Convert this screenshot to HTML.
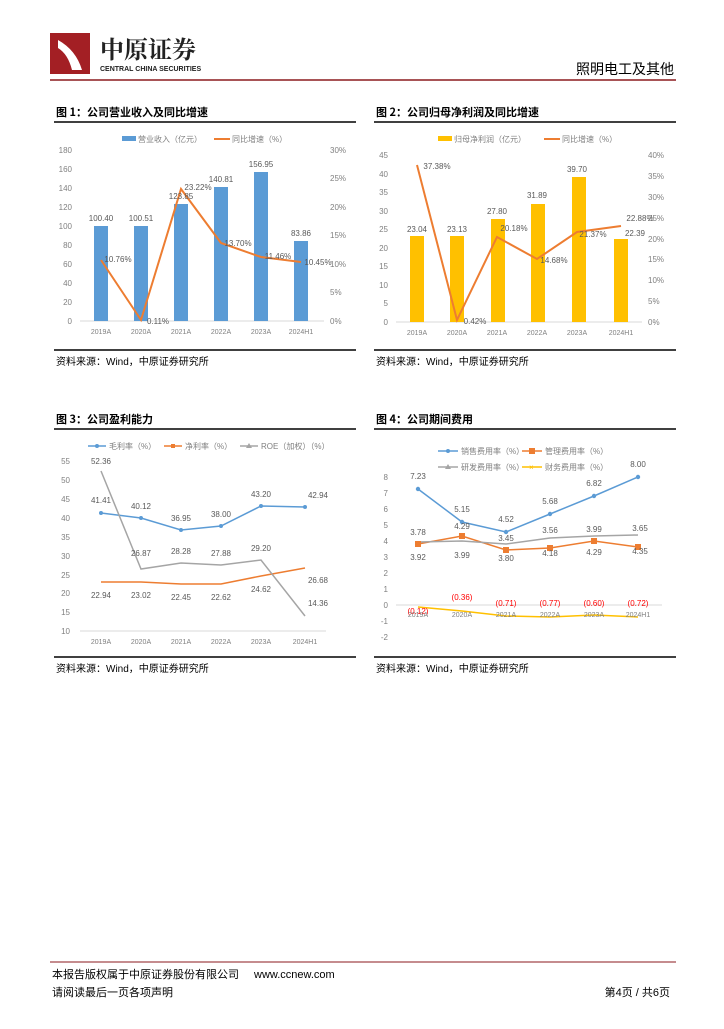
<!DOCTYPE html>
<html><head><meta charset="utf-8"><style>
body{margin:0;background:#fff;}
svg text{font-family:"Liberation Sans","Noto Sans CJK SC",sans-serif;}
.t{font-size:8px;fill:#808080}
.v{font-size:8px;fill:#595959}
.h{font-size:11px;font-weight:bold;fill:#000;font-family:"Noto Sans CJK SC",sans-serif}
.s{font-size:10px;fill:#000}
</style></head><body>
<svg width="724" height="1024" xmlns="http://www.w3.org/2000/svg">
<!-- header -->
<rect x="50" y="33" width="40" height="41" fill="#a31f24"/>
<path d="M58 40 q18 10 24 30 h-10 q-4 -16 -14 -22z" fill="#fff"/>
<text x="100" y="58" style="font-size:24px;font-weight:bold;fill:#222;font-family:'Noto Serif CJK SC',serif">中原证券</text>
<text x="100" y="71" style="font-size:7px;font-weight:bold;fill:#222">CENTRAL CHINA SECURITIES</text>
<text x="674" y="74" text-anchor="end" style="font-size:14px;fill:#000;font-family:'Noto Sans CJK SC',sans-serif">照明电工及其他</text>
<line x1="50" y1="80" x2="676" y2="80" stroke="#8b1a1e" stroke-width="1.5"/>

<!-- Chart 1 -->
<text x="56" y="116" class="h">图 1：公司营业收入及同比增速</text>
<line x1="54" y1="122" x2="356" y2="122" stroke="#000" stroke-width="1.5"/>
<rect x="122" y="136" width="14" height="5" fill="#5b9bd5"/><text x="138" y="142" class="t">营业收入（亿元）</text>
<line x1="214" y1="139" x2="230" y2="139" stroke="#ed7d31" stroke-width="2"/><text x="232" y="142" class="t">同比增速（%）</text>
<g class="t" text-anchor="end">
<text x="72" y="153">180</text><text x="72" y="172">160</text><text x="72" y="191">140</text><text x="72" y="210">120</text><text x="72" y="229">100</text><text x="72" y="248">80</text><text x="72" y="267">60</text><text x="72" y="286">40</text><text x="72" y="305">20</text><text x="72" y="324">0</text></g>
<g class="t"><text x="330" y="153">30%</text><text x="330" y="181">25%</text><text x="330" y="210">20%</text><text x="330" y="238">15%</text><text x="330" y="267">10%</text><text x="330" y="295">5%</text><text x="330" y="324">0%</text></g>
<line x1="80" y1="321" x2="324" y2="321" stroke="#d9d9d9"/>
<g fill="#5b9bd5">
<rect x="94" y="226" width="14" height="95"/><rect x="134" y="226" width="14" height="95"/><rect x="174" y="204" width="14" height="117"/><rect x="214" y="187" width="14" height="134"/><rect x="254" y="172" width="14" height="149"/><rect x="294" y="241" width="14" height="80"/></g>
<polyline points="101,260 141,320 181,189 221,243 261,257 301,262" fill="none" stroke="#ed7d31" stroke-width="2"/>
<g class="v" text-anchor="middle"><text x="101" y="221">100.40</text><text x="141" y="221">100.51</text><text x="181" y="199">123.85</text><text x="221" y="182">140.81</text><text x="261" y="167">156.95</text><text x="301" y="236">83.86</text>
<text x="118" y="262">10.76%</text><text x="158" y="324">0.11%</text><text x="198" y="190">23.22%</text><text x="238" y="246">13.70%</text><text x="278" y="259">11.46%</text><text x="318" y="265">10.45%</text></g>
<g class="t" text-anchor="middle" style="font-size:7px"><text x="101" y="334">2019A</text><text x="141" y="334">2020A</text><text x="181" y="334">2021A</text><text x="221" y="334">2022A</text><text x="261" y="334">2023A</text><text x="301" y="334">2024H1</text></g>
<line x1="54" y1="350" x2="356" y2="350" stroke="#000" stroke-width="1.5"/>
<text x="56" y="365" class="s">资料来源：Wind，中原证券研究所</text>

<!-- Chart 2 -->
<text x="376" y="116" class="h">图 2：公司归母净利润及同比增速</text>
<line x1="374" y1="122" x2="676" y2="122" stroke="#000" stroke-width="1.5"/>
<rect x="438" y="136" width="14" height="5" fill="#ffc000"/><text x="454" y="142" class="t">归母净利润（亿元）</text>
<line x1="544" y1="139" x2="560" y2="139" stroke="#ed7d31" stroke-width="2"/><text x="562" y="142" class="t">同比增速（%）</text>
<g class="t" text-anchor="end">
<text x="388" y="158">45</text><text x="388" y="177">40</text><text x="388" y="195">35</text><text x="388" y="214">30</text><text x="388" y="232">25</text><text x="388" y="251">20</text><text x="388" y="269">15</text><text x="388" y="288">10</text><text x="388" y="306">5</text><text x="388" y="325">0</text></g>
<g class="t"><text x="648" y="158">40%</text><text x="648" y="179">35%</text><text x="648" y="200">30%</text><text x="648" y="221">25%</text><text x="648" y="242">20%</text><text x="648" y="262">15%</text><text x="648" y="283">10%</text><text x="648" y="304">5%</text><text x="648" y="325">0%</text></g>
<line x1="396" y1="322" x2="642" y2="322" stroke="#d9d9d9"/>
<g fill="#ffc000">
<rect x="410" y="236" width="14" height="86"/><rect x="450" y="236" width="14" height="86"/><rect x="491" y="219" width="14" height="103"/><rect x="531" y="204" width="14" height="118"/><rect x="572" y="177" width="14" height="145"/><rect x="614" y="239" width="14" height="83"/></g>
<polyline points="417,165 457,320 497,237 537,259 577,232 621,226" fill="none" stroke="#ed7d31" stroke-width="2"/>
<g class="v" text-anchor="middle"><text x="417" y="232">23.04</text><text x="457" y="232">23.13</text><text x="497" y="214">27.80</text><text x="537" y="198">31.89</text><text x="577" y="172">39.70</text><text x="635" y="236">22.39</text>
<text x="437" y="169">37.38%</text><text x="475" y="324">0.42%</text><text x="514" y="231">20.18%</text><text x="554" y="263">14.68%</text><text x="593" y="237">21.37%</text><text x="640" y="221">22.88%</text></g>
<g class="t" text-anchor="middle" style="font-size:7px"><text x="417" y="335">2019A</text><text x="457" y="335">2020A</text><text x="497" y="335">2021A</text><text x="537" y="335">2022A</text><text x="577" y="335">2023A</text><text x="621" y="335">2024H1</text></g>
<line x1="374" y1="350" x2="676" y2="350" stroke="#000" stroke-width="1.5"/>
<text x="376" y="365" class="s">资料来源：Wind，中原证券研究所</text>

<!-- Chart 3 -->
<text x="56" y="423" class="h">图 3：公司盈利能力</text>
<line x1="54" y1="429" x2="356" y2="429" stroke="#000" stroke-width="1.5"/>
<line x1="88" y1="446" x2="106" y2="446" stroke="#5b9bd5" stroke-width="1.5"/><circle cx="97" cy="446" r="2" fill="#5b9bd5"/><text x="109" y="449" class="t">毛利率（%）</text>
<line x1="164" y1="446" x2="182" y2="446" stroke="#ed7d31" stroke-width="1.5"/><rect x="171" y="444" width="4" height="4" fill="#ed7d31"/><text x="185" y="449" class="t">净利率（%）</text>
<line x1="240" y1="446" x2="258" y2="446" stroke="#a5a5a5" stroke-width="1.5"/><path d="M249 443 l3 5 h-6z" fill="#a5a5a5"/><text x="261" y="449" class="t">ROE（加权）（%）</text>
<g class="t" text-anchor="end">
<text x="70" y="464">55</text><text x="70" y="483">50</text><text x="70" y="502">45</text><text x="70" y="521">40</text><text x="70" y="540">35</text><text x="70" y="559">30</text><text x="70" y="578">25</text><text x="70" y="596">20</text><text x="70" y="615">15</text><text x="70" y="634">10</text></g>
<line x1="80" y1="631" x2="326" y2="631" stroke="#d9d9d9"/>
<polyline points="101,513 141,518 181,530 221,526 261,506 305,507" fill="none" stroke="#5b9bd5" stroke-width="1.5"/>
<polyline points="101,582 141,582 181,584 221,584 261,576 305,568" fill="none" stroke="#ed7d31" stroke-width="1.5"/>
<polyline points="101,471 141,569 181,563 221,565 261,560 305,616" fill="none" stroke="#a5a5a5" stroke-width="1.5"/>
<g fill="#5b9bd5"><circle cx="101" cy="513" r="2"/><circle cx="141" cy="518" r="2"/><circle cx="181" cy="530" r="2"/><circle cx="221" cy="526" r="2"/><circle cx="261" cy="506" r="2"/><circle cx="305" cy="507" r="2"/></g>
<g class="v" text-anchor="middle"><text x="101" y="503">41.41</text><text x="141" y="509">40.12</text><text x="181" y="521">36.95</text><text x="221" y="517">38.00</text><text x="261" y="497">43.20</text><text x="318" y="498">42.94</text>
<text x="101" y="598">22.94</text><text x="141" y="598">23.02</text><text x="181" y="600">22.45</text><text x="221" y="600">22.62</text><text x="261" y="592">24.62</text><text x="318" y="583">26.68</text>
<text x="101" y="464">52.36</text><text x="141" y="556">26.87</text><text x="181" y="554">28.28</text><text x="221" y="556">27.88</text><text x="261" y="551">29.20</text><text x="318" y="606">14.36</text></g>
<g class="t" text-anchor="middle" style="font-size:7px"><text x="101" y="644">2019A</text><text x="141" y="644">2020A</text><text x="181" y="644">2021A</text><text x="221" y="644">2022A</text><text x="261" y="644">2023A</text><text x="305" y="644">2024H1</text></g>
<line x1="54" y1="657" x2="356" y2="657" stroke="#000" stroke-width="1.5"/>
<text x="56" y="672" class="s">资料来源：Wind，中原证券研究所</text>

<!-- Chart 4 -->
<text x="376" y="423" class="h">图 4：公司期间费用</text>
<line x1="374" y1="429" x2="676" y2="429" stroke="#000" stroke-width="1.5"/>
<line x1="438" y1="451" x2="458" y2="451" stroke="#5b9bd5" stroke-width="1.5"/><circle cx="448" cy="451" r="2" fill="#5b9bd5"/><text x="461" y="454" class="t">销售费用率（%）</text>
<line x1="522" y1="451" x2="542" y2="451" stroke="#ed7d31" stroke-width="1.5"/><rect x="529" y="448" width="6" height="6" fill="#ed7d31"/><text x="545" y="454" class="t">管理费用率（%）</text>
<line x1="438" y1="467" x2="458" y2="467" stroke="#a5a5a5" stroke-width="1.5"/><path d="M448 464 l3 5 h-6z" fill="#a5a5a5"/><text x="461" y="470" class="t">研发费用率（%）</text>
<line x1="522" y1="467" x2="542" y2="467" stroke="#ffc000" stroke-width="1.5"/><text x="529" y="470" style="font-size:8px;fill:#ffc000">×</text><text x="545" y="470" class="t">财务费用率（%）</text>
<g class="t" text-anchor="end">
<text x="388" y="480">8</text><text x="388" y="496">7</text><text x="388" y="512">6</text><text x="388" y="528">5</text><text x="388" y="544">4</text><text x="388" y="560">3</text><text x="388" y="576">2</text><text x="388" y="592">1</text><text x="388" y="608">0</text><text x="388" y="624">-1</text><text x="388" y="640">-2</text></g>
<line x1="396" y1="605" x2="662" y2="605" stroke="#d9d9d9"/>
<polyline points="418,489 462,522 506,532 550,514 594,496 638,477" fill="none" stroke="#5b9bd5" stroke-width="1.5"/>
<polyline points="418,544 462,536 506,550 550,548 594,541 638,547" fill="none" stroke="#ed7d31" stroke-width="1.5"/>
<polyline points="418,542 462,541 506,544 550,538 594,536 638,535" fill="none" stroke="#a5a5a5" stroke-width="1.5"/>
<polyline points="418,607 462,611 506,616 550,617 594,615 638,617" fill="none" stroke="#ffc000" stroke-width="1.5"/>
<g fill="#5b9bd5"><circle cx="418" cy="489" r="2.2"/><circle cx="462" cy="522" r="2.2"/><circle cx="506" cy="532" r="2.2"/><circle cx="550" cy="514" r="2.2"/><circle cx="594" cy="496" r="2.2"/><circle cx="638" cy="477" r="2.2"/></g>
<g fill="#ed7d31"><rect x="415" y="541" width="6" height="6"/><rect x="459" y="533" width="6" height="6"/><rect x="503" y="547" width="6" height="6"/><rect x="547" y="545" width="6" height="6"/><rect x="591" y="538" width="6" height="6"/><rect x="635" y="544" width="6" height="6"/></g>
<g class="v" text-anchor="middle"><text x="418" y="479">7.23</text><text x="462" y="512">5.15</text><text x="506" y="522">4.52</text><text x="550" y="504">5.68</text><text x="594" y="486">6.82</text><text x="638" y="467">8.00</text>
<text x="418" y="535">3.78</text><text x="462" y="529">4.29</text><text x="506" y="541">3.45</text><text x="550" y="533">3.56</text><text x="594" y="532">3.99</text><text x="640" y="531">3.65</text>
<text x="418" y="560">3.92</text><text x="462" y="558">3.99</text><text x="506" y="561">3.80</text><text x="550" y="556">4.18</text><text x="594" y="555">4.29</text><text x="640" y="554">4.35</text></g>
<g style="font-size:8px;fill:#ff0000" text-anchor="middle"><text x="418" y="614">(0.12)</text><text x="462" y="600">(0.36)</text><text x="506" y="606">(0.71)</text><text x="550" y="606">(0.77)</text><text x="594" y="606">(0.60)</text><text x="638" y="606">(0.72)</text></g>
<g class="t" text-anchor="middle" style="font-size:7px"><text x="418" y="617">2019A</text><text x="462" y="617">2020A</text><text x="506" y="617">2021A</text><text x="550" y="617">2022A</text><text x="594" y="617">2023A</text><text x="638" y="617">2024H1</text></g>
<line x1="374" y1="657" x2="676" y2="657" stroke="#000" stroke-width="1.5"/>
<text x="376" y="672" class="s">资料来源：Wind，中原证券研究所</text>

<!-- footer -->
<line x1="50" y1="962" x2="676" y2="962" stroke="#8b1a1e" stroke-width="1"/>
<text x="52" y="978" style="font-size:11px;fill:#000">本报告版权属于中原证券股份有限公司</text>
<text x="254" y="978" style="font-size:11px;fill:#000">www.ccnew.com</text>
<text x="52" y="996" style="font-size:11px;fill:#000">请阅读最后一页各项声明</text>
<text x="670" y="996" text-anchor="end" style="font-size:11px;fill:#000">第4页 / 共6页</text>
</svg>
</body></html>
